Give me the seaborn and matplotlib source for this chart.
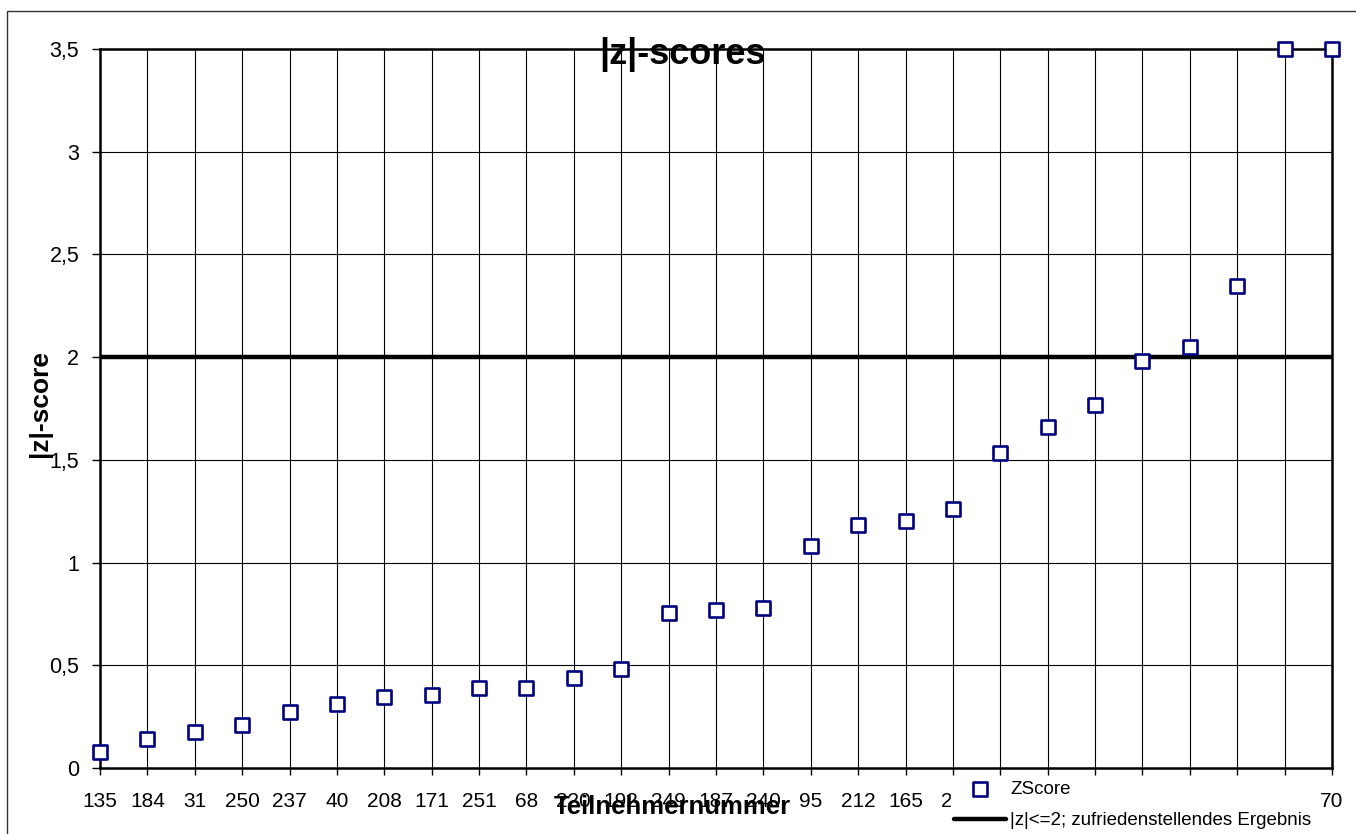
import matplotlib
matplotlib.use("Agg")
import matplotlib.pyplot as plt
import numpy as np
import pandas as pd
import seaborn as sns
from matplotlib.patches import Rectangle
from matplotlib.ticker import FuncFormatter, MultipleLocator

# participant numbers in the order of the x axis (labels hidden by the legend left blank)
teilnehmer = ["135", "184", "31", "250", "237", "40", "208", "171", "251", "68",
              "220", "192", "249", "187", "240", "95", "212", "165", "20",
              "", "", "", "", "", "", "", "70"]
zscores = [0.08, 0.14, 0.175, 0.21, 0.275, 0.31, 0.345, 0.355, 0.39, 0.39,
           0.44, 0.48, 0.755, 0.77, 0.78, 1.08, 1.185, 1.2, 1.26,
           1.535, 1.66, 1.765, 1.98, 2.05, 2.345, 3.5, 3.5]
limit = 2.0

df = pd.DataFrame({
    "pos": np.arange(len(zscores)),
    "zscore": zscores,
    "limit": [limit] * len(zscores),
})

sns.set_style("white")
plt.rcParams["font.family"] = ["Liberation Sans", "DejaVu Sans"]
plt.rcParams.update({"text.color": "black", "axes.labelcolor": "black",
                     "xtick.color": "black", "ytick.color": "black"})

W, H = 1356, 834
fig = plt.figure(figsize=(W / 100, H / 100), dpi=100)
ax = fig.add_axes([100 / W, 1 - 768 / H, 1232 / W, 719 / H])

# outer chart frame
fig.patches.append(Rectangle((7 / W, -0.05), 1.2, 1.05 - 11 / H,
                             transform=fig.transFigure, fill=False,
                             edgecolor="#333333", lw=1))

sns.lineplot(data=df, x="pos", y="limit", color="black", lw=3.2, ax=ax,
             label="|z|<=2; zufriedenstellendes Ergebnis", zorder=3)
sns.scatterplot(data=df, x="pos", y="zscore", marker="s", s=100,
                facecolor="white", edgecolor="#000080", linewidth=1.9,
                ax=ax, label="ZScore", zorder=4, clip_on=False)

ax.set_xlim(0, len(zscores) - 1)
ax.set_ylim(0, 3.5)
ax.set_xticks(df["pos"])
ax.set_xticklabels(teilnehmer)
ax.yaxis.set_major_locator(MultipleLocator(0.5))
ax.yaxis.set_major_formatter(FuncFormatter(lambda v, p: f"{v:g}".replace(".", ",")))

ax.grid(True, color="black", lw=0.8)
ax.set_axisbelow(True)
for sp in ax.spines.values():
    sp.set_color("black")
    sp.set_linewidth(1.8)

ax.tick_params(axis="x", direction="out", length=5, width=1, color="black",
               labelsize=15, pad=12, bottom=True)
ax.tick_params(axis="y", direction="out", length=6, width=1, color="black",
               labelsize=15.5, pad=9, left=True)

ax.set_xlabel("Teilnehmernummer", fontsize=18.5, fontweight="bold")
ax.xaxis.set_label_coords((672 - 100) / 1232, (768 - 807) / 719)
ax.xaxis.label.set_va("center")
ax.set_ylabel("|z|-score", fontsize=19, fontweight="bold")
ax.yaxis.set_label_coords((40 - 100) / 1232, (768 - 403) / 719)
ax.yaxis.label.set_va("center")

fig.text(683 / W, 1 - 55 / H, "|z|-scores", fontsize=26, fontweight="bold",
         ha="center", va="center")

handles, labels = ax.get_legend_handles_labels()
order = [labels.index("ZScore"), labels.index("|z|<=2; zufriedenstellendes Ergebnis")]
leg = ax.legend([handles[i] for i in order], [labels[i] for i in order],
                loc="upper left", bbox_to_anchor=(951 / W, 1 - 778 / H),
                bbox_transform=fig.transFigure, fontsize=13.5, frameon=True,
                fancybox=False, borderpad=0.15, borderaxespad=0,
                handlelength=2.8, handletextpad=0.2, labelspacing=0.75)
leg.get_frame().set_facecolor("white")
leg.get_frame().set_edgecolor("white")
leg.get_frame().set_alpha(1)
leg.set_zorder(10)

fig.savefig("out.png", dpi=100)
